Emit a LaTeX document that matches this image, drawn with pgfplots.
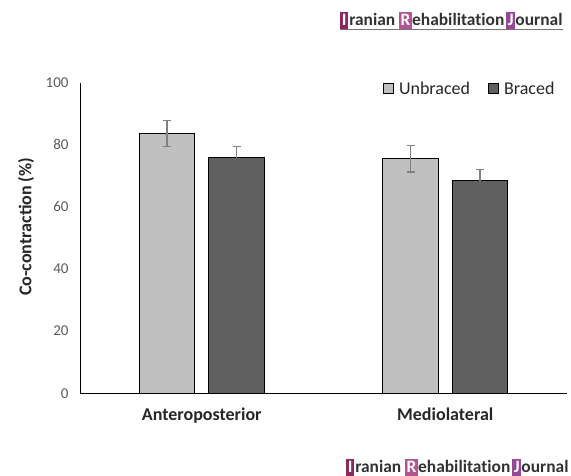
\documentclass[border=0pt]{standalone}
\usepackage{fontspec}
\setmainfont{Carlito}
\newfontfamily\logofont[Ligatures=NoCommon]{Carlito}
\usepackage{graphicx}
\usepackage{pgfplots}
\pgfplotsset{compat=1.18}
\definecolor{unbr}{RGB}{192,192,192}
\definecolor{br}{RGB}{96,96,96}
\definecolor{errc}{RGB}{128,128,128}
\definecolor{tickc}{RGB}{89,89,89}
\definecolor{logoI}{RGB}{139,40,95}
\definecolor{logoR}{RGB}{178,86,145}
\definecolor{logoJ}{RGB}{150,72,150}
\definecolor{logotext}{RGB}{50,50,50}
\newcommand{\lbox}[2]{{\fboxsep=0.8pt\colorbox{#1}{\textcolor{white}{\vphantom{Jg}\smash{#2}}}}}
\newcommand{\logo}{\resizebox{222pt}{!}{\logofont\bfseries\color{logotext}\lbox{logoI}{I}\kern0.8pt ranian \lbox{logoR}{R}\kern0.3pt ehabilitation\kern1.2pt\lbox{logoJ}{J}\kern0.3pt ournal}}
\begin{document}
\begin{tikzpicture}
\useasboundingbox (0,0) rectangle (571pt,476pt);
\node[anchor=center, inner sep=0pt] at (451.5pt,455pt) {\logo};
\draw[color=black!55, line width=0.8pt] (340pt,446.5pt) -- (563pt,446.5pt);
\node[anchor=center, inner sep=0pt] at (457.5pt,8pt) {\logo};
\begin{axis}[
  at={(80pt,82.7pt)}, anchor=south west, scale only axis,
  width=487pt, height=310.6pt,
  xmin=-0.5, xmax=1.5, ymin=0, ymax=100,
  ybar=14pt, bar width=55.5pt,
  axis x line*=bottom, axis y line*=left,
  axis line style={-, black, line width=1pt},
  xtick={0,1}, xticklabels={Anteroposterior, Mediolateral},
  ytick={0,20,...,100},
  major tick length=0pt,
  /pgf/number format/assume math mode=true,
  yticklabel style={font=\fontsize{15}{18}\selectfont, text=tickc, xshift=-8pt},
  xticklabel style={font=\fontsize{18}{21}\selectfont\bfseries, text=black!85, yshift=-11pt},
  ylabel={Co-contraction (\%)},
  ylabel style={font=\fontsize{18}{21}\selectfont\bfseries, text=black!85, at={(axis description cs:-0.111,0.536)}, anchor=center},
  legend style={draw=none, fill=none, at={(axis description cs:0.6216,0.98)}, anchor=west,
    legend columns=2, font=\fontsize{18}{21}\selectfont, text=black!85,
    /tikz/every even column/.append style={column sep=16pt}, inner sep=0pt},
  legend image code/.code={\draw[#1, line width=1pt] (0pt,-5pt) rectangle (10pt,5pt); \path (13pt,0pt);},
]
\addplot[fill=unbr, draw=black, line width=1.2pt,
  error bars/.cd, y dir=both, y explicit,
  error bar style={errc, line width=1.5pt},
  error mark options={errc, line width=1.5pt, mark size=4pt, rotate=90}]
  coordinates {(0,83.7) +- (0,4.2) (1,75.5) +- (0,4.3)};
\addlegendentry{Unbraced}
\addplot[fill=br, draw=black, line width=1.2pt,
  error bars/.cd, y dir=plus, y explicit,
  error bar style={errc, line width=1.5pt},
  error mark options={errc, line width=1.5pt, mark size=4pt, rotate=90}]
  coordinates {(0,75.8) +- (0,3.7) (1,68.4) +- (0,3.7)};
\addlegendentry{Braced}
\end{axis}
\end{tikzpicture}
\end{document}
